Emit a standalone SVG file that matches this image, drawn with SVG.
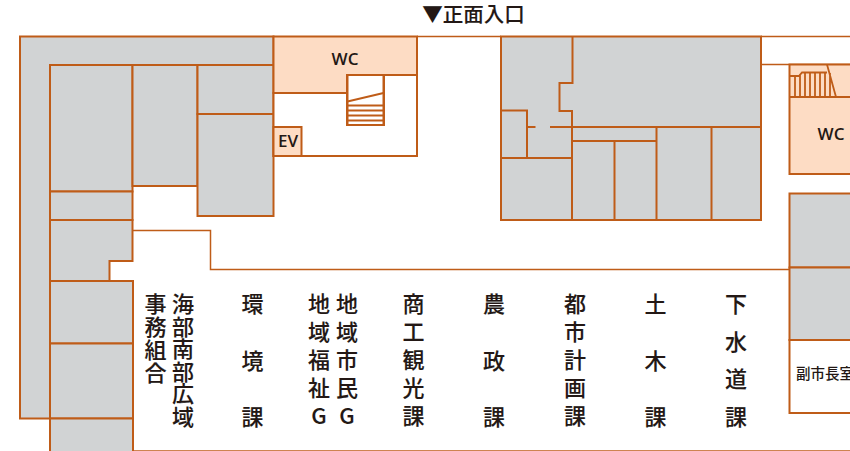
<svg xmlns="http://www.w3.org/2000/svg" width="850" height="451" viewBox="0 0 850 451">
<style>
.g{fill:#d1d3d4;stroke:#bf5c18;stroke-width:2}
.p{fill:#fddcc4;stroke:#bf5c18;stroke-width:2}
.w{fill:#fff;stroke:#bf5c18;stroke-width:2}
.l{fill:none;stroke:#bf5c18;stroke-width:2}
.t{fill:none;stroke:#bf5c18;stroke-width:1.500}
.s{fill:none;stroke:#bf5c18;stroke-width:1.800}
text{fill:#231815;font-family:"Noto Sans CJK JP","Noto Sans",sans-serif;font-weight:500;stroke:#231815;stroke-width:.1}
.v{font-size:22px;text-anchor:middle}
.e{font-family:"Open Sans","Noto Sans",sans-serif;font-weight:600;font-size:17px;text-anchor:middle;stroke:none}
</style>
<rect width="850" height="451" fill="#fff"/>
<g id="walls">
<path class="g" d="M20 36.500H273.500V65H50V418.500H20Z"/>
<path class="t" d="M417 36.500H501M761 36.500H850M761 64.500H850M132 230.500H210.500V269.500H790M132 451H850"/>
</g>
<g id="west-rooms">
<rect class="g" x="50" y="65" width="82.500" height="126.500"/>
<rect class="g" x="132.500" y="65" width="65" height="121"/>
<rect class="g" x="197.500" y="65" width="76" height="49"/>
<rect class="g" x="197.500" y="114" width="76" height="102"/>
<rect class="g" x="50" y="191.500" width="82.500" height="28.500"/>
<path class="g" d="M50 220H132.500V261H109.500V281H50Z"/>
<rect class="g" x="50" y="281" width="83" height="62.500"/>
<rect class="g" x="50" y="343.500" width="83" height="75"/>
<rect class="g" x="50" y="418.500" width="83" height="34"/>
</g>
<g id="core">
<path class="p" d="M273.500 36.500H417V75H347V93H273.500Z"/>
<path class="w" d="M273.500 93H347V125H384V75H417V156H273.500Z"/>
<rect class="p" x="273.500" y="127" width="28" height="29"/>
<g id="stair-1">
<rect class="w" x="347.500" y="75" width="36" height="50"/>
<path class="s" d="M347.500 101.500L383.500 93M347.500 105.500H383.500M347.500 110.500H383.500M347.500 115.500H383.500M347.500 120.500H383.500"/>
</g>
</g>
<g id="east-block">
<rect class="g" x="501" y="36.500" width="260" height="183.500"/>
<path class="l" d="M572.500 36.500V83H559.500V111H572V220M501 110.500H527V158M501 158H572M527 127H535.500M550 127H572M572 127H761M572 141H656.500M614.500 141V220M656.500 127V220M711.500 127V220"/>
</g>
<g id="east-wing">
<rect class="p" x="789.500" y="64.500" width="70" height="109.500"/>
<path class="l" d="M789.500 97H850"/>
<path class="s" d="M789.500 76H799L802 72.500H827M827 64.500L836 97M795 76V97M800 74V97M805 73V97M810 73V97M815 73V97M820 73V97M825 73V97M830 73V97"/>
<rect class="g" x="789.500" y="193.500" width="70" height="74"/>
<rect class="g" x="789.500" y="267.500" width="70" height="72.500"/>
<rect class="w" x="789.500" y="340" width="70" height="73"/>
</g>
<g id="labels">
<text x="473.500" y="22" font-size="20.500" text-anchor="middle">▼正面入口</text>
<text class="e" x="345" y="65">WC</text>
<text class="e" x="288" y="147">EV</text>
<text class="e" x="831" y="140">WC</text>
<text x="796" y="379" font-size="14.500" style="stroke:none">副市長室</text>
<text class="v"><tspan x="155.500" y="312">事</tspan><tspan x="155.500" y="335">務</tspan><tspan x="155.500" y="358">組</tspan><tspan x="155.500" y="381">合</tspan></text>
<text class="v"><tspan x="183" y="312">海</tspan><tspan x="183" y="335">部</tspan><tspan x="183" y="357">南</tspan><tspan x="183" y="380">部</tspan><tspan x="183" y="402">広</tspan><tspan x="183" y="425">域</tspan></text>
<text class="v"><tspan x="252.500" y="312">環</tspan><tspan x="252.500" y="369">境</tspan><tspan x="252.500" y="425">課</tspan></text>
<text class="v"><tspan x="319" y="312">地</tspan><tspan x="319" y="340">域</tspan><tspan x="319" y="368">福</tspan><tspan x="319" y="396">祉</tspan><tspan x="319" y="424">G</tspan></text>
<text class="v"><tspan x="347" y="312">地</tspan><tspan x="347" y="340">域</tspan><tspan x="347" y="368">市</tspan><tspan x="347" y="396">民</tspan><tspan x="347" y="424">G</tspan></text>
<text class="v"><tspan x="413.500" y="312">商</tspan><tspan x="413.500" y="340">工</tspan><tspan x="413.500" y="368">観</tspan><tspan x="413.500" y="396">光</tspan><tspan x="413.500" y="424">課</tspan></text>
<text class="v"><tspan x="494" y="312">農</tspan><tspan x="494" y="369">政</tspan><tspan x="494" y="425">課</tspan></text>
<text class="v"><tspan x="575" y="312">都</tspan><tspan x="575" y="340">市</tspan><tspan x="575" y="368">計</tspan><tspan x="575" y="396">画</tspan><tspan x="575" y="424">課</tspan></text>
<text class="v"><tspan x="655.500" y="312">土</tspan><tspan x="655.500" y="369">木</tspan><tspan x="655.500" y="425">課</tspan></text>
<text class="v"><tspan x="736" y="312">下</tspan><tspan x="736" y="350">水</tspan><tspan x="736" y="387">道</tspan><tspan x="736" y="425">課</tspan></text>
</g>
</svg>
